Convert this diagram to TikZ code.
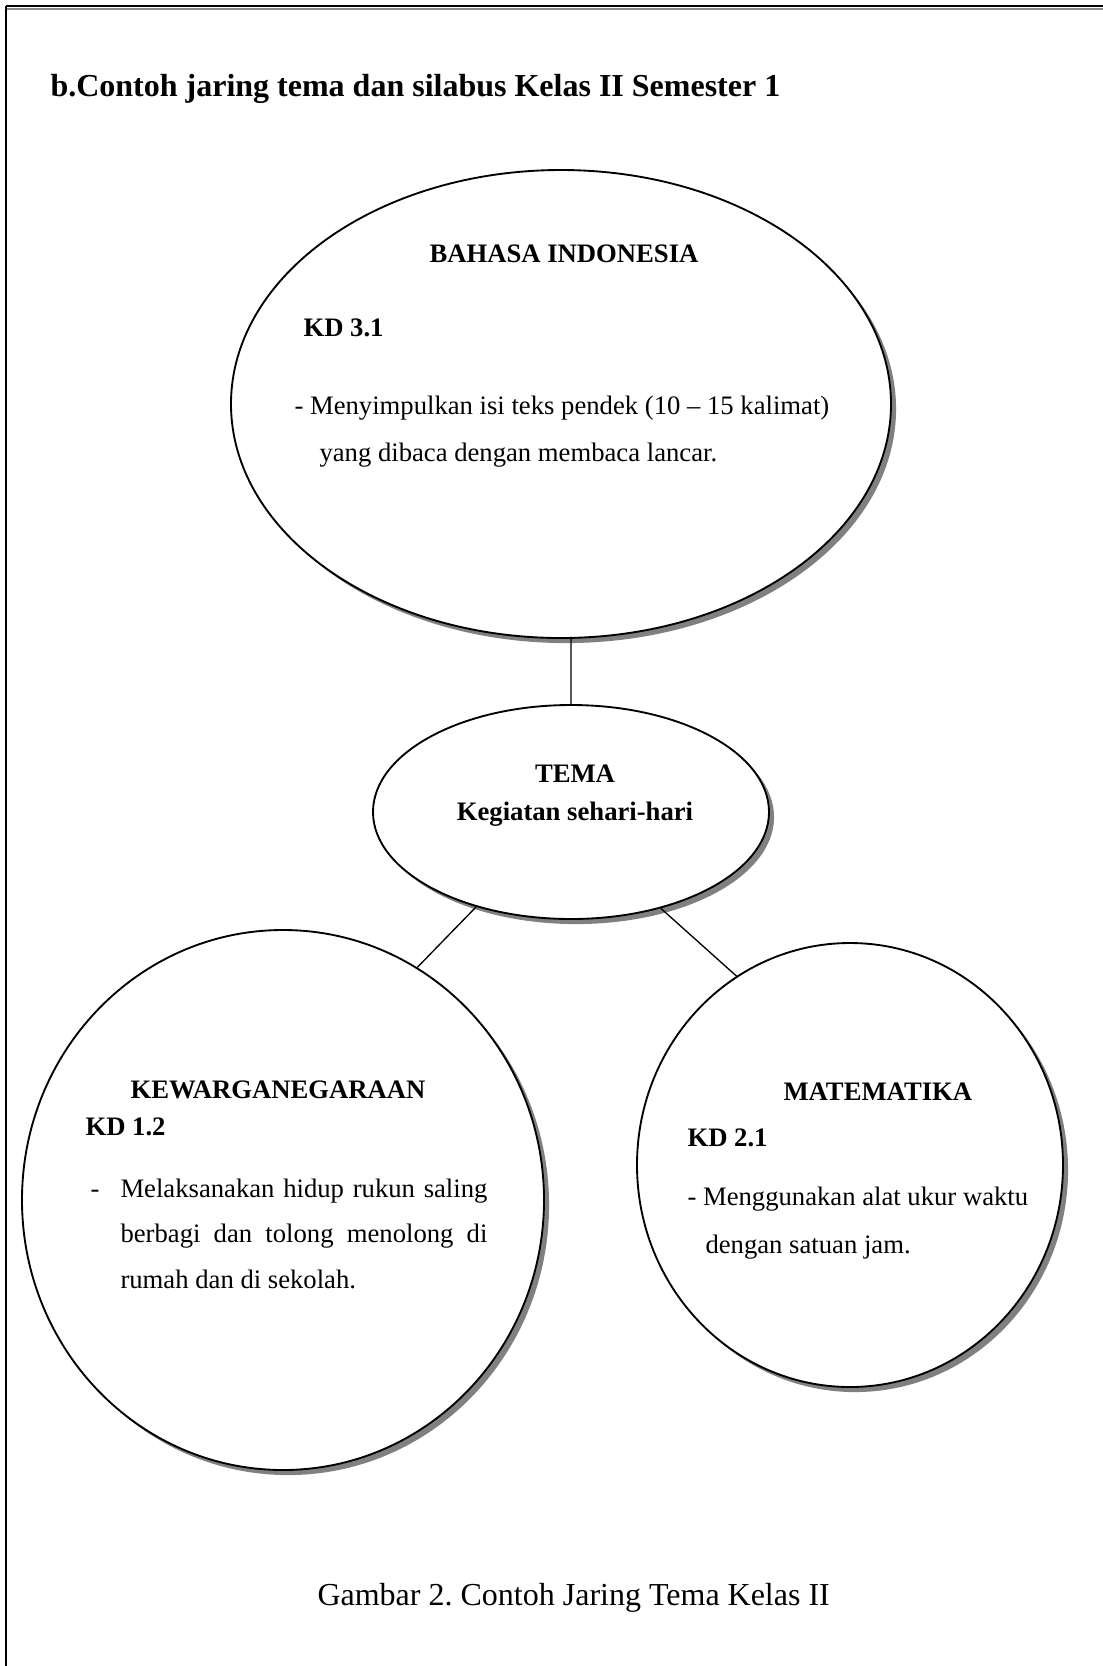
\documentclass[tikz,border=0pt]{standalone}
\usepackage{fontspec}
\setmainfont{Liberation Serif}
\usepackage{tikz}
\usetikzlibrary{shapes.geometric,shadows}
\frenchspacing

\begin{document}
\begin{tikzpicture}[x=0.375pt, y=-0.375pt,
    bubble/.style={ellipse, draw, line width=0.7pt, fill=white, inner sep=0pt,
      drop shadow={shadow xshift=1.9pt, shadow yshift=-1.9pt, fill=black!50, opacity=1}},
    txt/.style={inner sep=0pt, anchor=base west, font=\fontsize{10}{12}\selectfont},
    head/.style={inner sep=0pt, anchor=base, font=\fontsize{10}{12}\selectfont\bfseries},
    link/.style={line width=0.5pt}]
    \useasboundingbox (0,0) rectangle (1103,1666);
    \clip (0,0) rectangle (1103,1666);

    % frame
    \draw[black!45, line width=0.6pt] (6,9) -- (1110,9);
    \draw[line width=1.1pt] (6,6) -- (1110,6);
    \draw[line width=0.8pt] (6,6) -- (6,1670);

    \node(title)[inner sep=0pt, anchor=base west, font=\fontsize{12}{14}\selectfont\bfseries]
      at (50,96) {b.Contoh jaring tema dan silabus Kelas II Semester 1};

    % ellipses
    \node(bahasa)[bubble, minimum width=247.5pt, minimum height=175.5pt] at (561,404) {};
    \node(tema)[bubble, minimum width=148.5pt, minimum height=80.25pt] at (571,812) {};
    \node(pkn)[bubble, minimum width=195.75pt, minimum height=202.5pt] at (283,1200) {};
    \node(mtk)[bubble, minimum width=159.75pt, minimum height=166.5pt] at (850,1165) {};

    \draw[link] (tema.north) -- (bahasa.south -| tema.north)
                (tema.225) -- (pkn.60)
                (tema.313) -- (mtk.121);

    % bahasa indonesia
    \node(bahasaH)[head] at (564,262) {BAHASA INDONESIA};
    \node(bahasaKD)[txt, font=\fontsize{10}{12}\selectfont\bfseries] at (303,336) {KD 3.1};
    \node(bahasa1)[txt] at (294,414) {- Menyimpulkan isi teks pendek (10 -- 15 kalimat)};
    \node(bahasa2)[txt] at (319,461) {yang dibaca dengan membaca lancar.};

    % tema
    \node(temaH)[head] at (575,782) {TEMA};
    \node(temaT)[head] at (575,820) {Kegiatan sehari-hari};

    % kewarganegaraan
    \node(pknH)[txt, font=\fontsize{10}{12}\selectfont\bfseries] at (130,1098) {KEWARGANEGARAAN};
    \node(pknKD)[txt, font=\fontsize{10}{12}\selectfont\bfseries] at (85,1135) {KD 1.2};
    \node(pknD)[txt] at (90,1197) {-};
    \node(pkn1)[txt] at (120,1197) {\makebox[137.6pt][s]{Melaksanakan hidup rukun saling}};
    \node(pkn2)[txt] at (120,1242) {\makebox[137.6pt][s]{berbagi dan tolong menolong di}};
    \node(pkn3)[txt] at (120,1288) {rumah dan di sekolah.};

    % matematika
    \node(mtkH)[txt, font=\fontsize{10}{12}\selectfont\bfseries] at (783,1100) {MATEMATIKA};
    \node(mtkKD)[txt, font=\fontsize{10}{12}\selectfont\bfseries] at (687,1146) {KD 2.1};
    \node(mtk1)[txt] at (687,1205) {- Menggunakan alat ukur waktu};
    \node(mtk2)[txt] at (705,1253) {dengan satuan jam.};

    \node(caption)[inner sep=0pt, anchor=base west, font=\fontsize{12}{14}\selectfont]
      at (317,1605) {Gambar 2. Contoh Jaring Tema Kelas II};
\end{tikzpicture}
\end{document}
